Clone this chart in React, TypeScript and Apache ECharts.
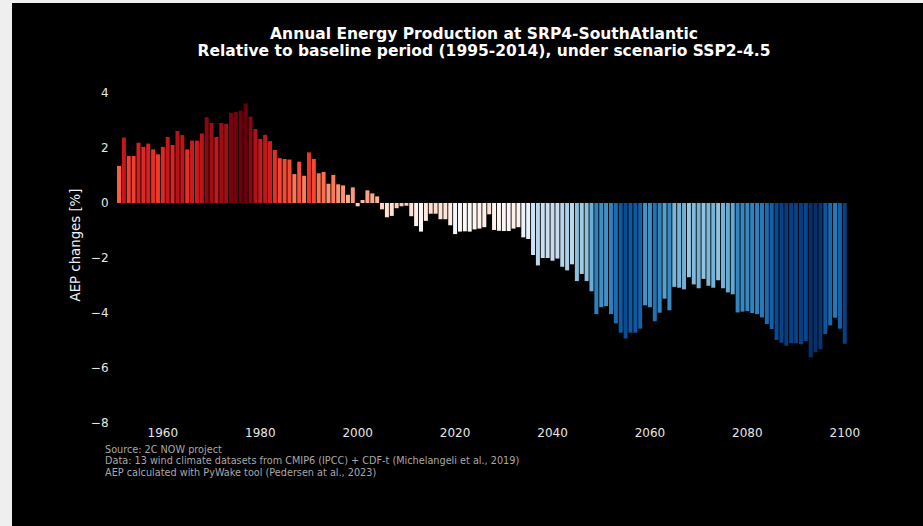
import React, { useEffect, useRef } from "react";
import * as echarts from "echarts";

const START_YEAR = 1951;
const AEP_CHANGE = [
  1.35, 2.38, 1.71, 1.71, 2.19, 2.04, 2.16, 1.95, 1.77, 2.04,
  2.40, 2.11, 2.62, 2.47, 1.95, 2.27, 2.27, 2.53, 3.12, 2.91,
  2.40, 2.91, 2.88, 3.28, 3.31, 3.36, 3.62, 3.14, 2.69, 2.33,
  2.48, 2.25, 1.93, 1.63, 1.60, 1.58, 1.05, 1.50, 0.99, 1.84,
  1.60, 1.08, 1.13, 0.70, 1.02, 0.68, 0.64, 0.30, 0.57, -0.12,
  0.11, 0.46, 0.35, 0.24, -0.23, -0.52, -0.47, -0.19, -0.12, -0.10,
  -0.48, -0.84, -1.04, -0.65, -0.39, -0.39, -0.59, -0.59, -0.81, -1.13,
  -1.04, -1.03, -1.04, -0.96, -0.93, -0.88, -0.41, -0.98, -1.01, -1.02,
  -1.02, -0.93, -0.88, -1.25, -1.31, -1.89, -2.27, -2.00, -2.00, -2.10,
  -2.02, -2.32, -2.45, -2.23, -2.84, -2.58, -2.84, -3.21, -4.04, -3.79,
  -3.75, -4.04, -4.38, -4.72, -4.93, -4.72, -4.72, -4.57, -3.72, -3.79,
  -4.30, -3.99, -3.48, -3.90, -3.05, -3.08, -3.14, -2.70, -2.96, -3.10,
  -2.76, -3.01, -3.08, -2.81, -3.10, -3.25, -3.32, -3.98, -3.95, -3.93,
  -4.00, -4.04, -4.16, -4.40, -4.58, -4.98, -5.08, -5.19, -5.10, -5.10,
  -5.14, -5.02, -5.61, -5.43, -5.32, -4.76, -4.45, -4.17, -4.57, -5.12,
];
const YEARS = AEP_CHANGE.map((_, i) => String(START_YEAR + i));
const Y_TICKS = { min: -8, max: 4, interval: 2 };
const X_LABEL_STEP = 20;

const TITLE_LINES = [
  "Annual Energy Production at SRP4-SouthAtlantic",
  "Relative to baseline period (1995-2014), under scenario SSP2-4.5",
];
const Y_NAME = "AEP changes [%]";
const FOOTER_LINES = [
  "Source: 2C NOW project",
  "Data: 13 wind climate datasets from CMIP6 (IPCC) + CDF-t (Michelangeli et al., 2019)",
  "AEP calculated with PyWake tool (Pedersen at al., 2023)",
];

// ColorBrewer sequential ramps (light -> dark)
const BLUES = ["#f7fbff", "#deebf7", "#c6dbef", "#9ecae1", "#6baed6", "#4292c6", "#2171b5", "#08519c", "#08306b"];
const REDS = ["#fff5f0", "#fee0d2", "#fcbba1", "#fc9272", "#fb6a4a", "#ef3b2c", "#cb181d", "#a50f15", "#67000d"];
const HALF_RANGE = 4.4;

const FONT = "DejaVu Sans";

function hexToRgb(h: string) {
  const n = parseInt(h.slice(1), 16);
  return [(n >> 16) & 255, (n >> 8) & 255, n & 255];
}
function rampAt(ramp: string[], t: number) {
  const tt = Math.max(0, Math.min(1, t)) * (ramp.length - 1);
  const i = Math.min(Math.floor(tt), ramp.length - 2);
  const f = tt - i;
  const a = hexToRgb(ramp[i]);
  const b = hexToRgb(ramp[i + 1]);
  const c = a.map((x, k) => Math.round(x + (b[k] - x) * f));
  return `rgb(${c[0]},${c[1]},${c[2]})`;
}

export default function App() {
  const ref = useRef<HTMLDivElement>(null);

  useEffect(() => {
    if (!ref.current) return;
    const chart = echarts.init(ref.current, null, { renderer: "svg" });
    const vmin = Math.min(...AEP_CHANGE);
    const vmax = Math.max(...AEP_CHANGE);
    const center = (vmin + vmax) / 2;
    const N = 120;
    const colorRamp: string[] = [];
    for (let i = 0; i <= N; i++) {
      const v = vmin + ((vmax - vmin) * i) / N;
      const d = v - center;
      colorRamp.push(d >= 0 ? rampAt(REDS, d / HALF_RANGE) : rampAt(BLUES, -d / HALF_RANGE));
    }
    const catW = 4.871;
    const gridLeft = 107 - catW / 2;
    chart.setOption({
      animation: false,
      backgroundColor: "#000000",
      grid: { left: gridLeft, width: catW * YEARS.length, top: 90, height: 330 },
      xAxis: {
        type: "category",
        data: YEARS,
        axisLine: { show: false },
        axisTick: { show: false },
        splitLine: { show: false },
        axisLabel: {
          interval: (_i: number, v: string) => Number(v) % X_LABEL_STEP === 0,
          color: "#e6e6e6",
          fontFamily: FONT,
          fontSize: 12,
          margin: 4,
        },
      },
      yAxis: {
        type: "value",
        min: Y_TICKS.min,
        max: Y_TICKS.max,
        interval: Y_TICKS.interval,
        axisLine: { show: false },
        axisTick: { show: false },
        splitLine: { show: false },
        axisLabel: {
          formatter: (v: number) => (v < 0 ? "\u2212" + Math.abs(v) : String(v)),
          color: "#e6e6e6",
          fontFamily: FONT,
          fontSize: 12,
          margin: 8,
        },
      },
      visualMap: {
        type: "continuous",
        show: false,
        min: vmin,
        max: vmax,
        dimension: 1,
        seriesIndex: 0,
        inRange: { color: colorRamp },
      },
      series: [
        {
          type: "bar",
          data: AEP_CHANGE,
          barCategoryGap: "18%",
        },
      ],
      graphic: [
        ...TITLE_LINES.map((t, i) => ({
          type: "text",
          x: 472,
          y: 31 + i * 16.5,
          style: {
            text: t,
            fill: "#ffffff",
            font: `bold 15.5px "${FONT}"`,
            textAlign: "center",
            textVerticalAlign: "middle",
          },
        })),
        {
          type: "text",
          x: 63,
          y: 242,
          rotation: Math.PI / 2,
          style: {
            text: Y_NAME,
            fill: "#f0f0f0",
            font: `13.3px "${FONT}"`,
            textAlign: "center",
            textVerticalAlign: "middle",
          },
        },
        ...FOOTER_LINES.map((t, i) => ({
          type: "text",
          x: 93,
          y: 446 + i * 11.5,
          style: {
            text: t,
            fill: "#a8a8a8",
            font: `9.7px "${FONT}"`,
            textAlign: "left",
            textVerticalAlign: "middle",
          },
        })),
      ],
    });
    return () => chart.dispose();
  }, []);

  return (
    <div style={{ position: "fixed", inset: 0, background: "#efefef" }}>
      <div
        ref={ref}
        style={{ position: "absolute", left: 12, top: 3, width: 911, height: 523 }}
      />
    </div>
  );
}
